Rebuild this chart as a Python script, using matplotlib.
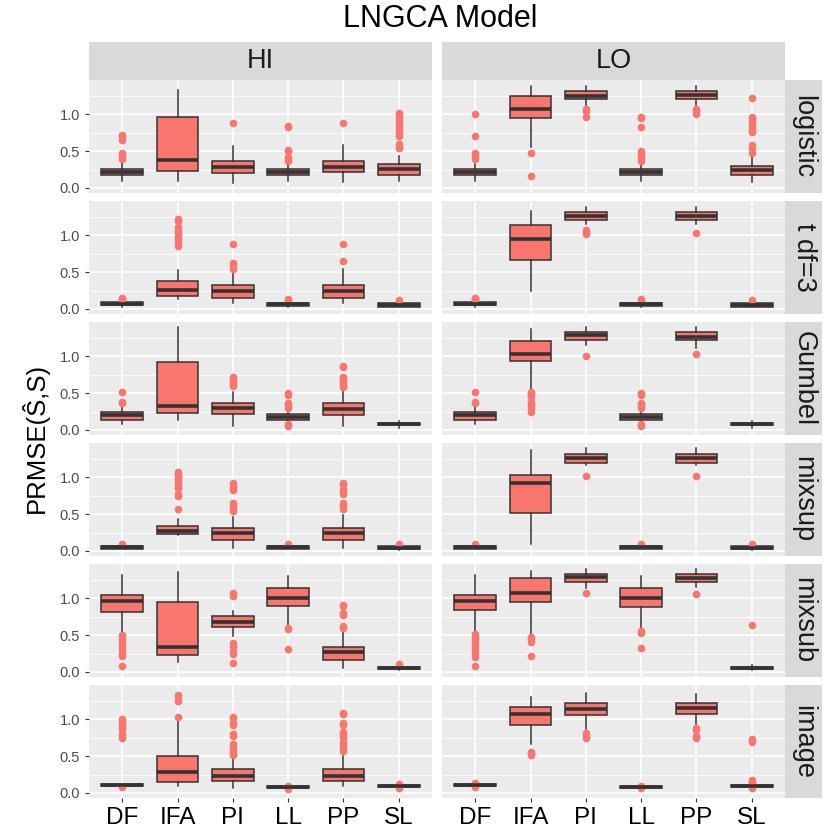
import matplotlib.pyplot as plt

plt.rcParams['font.family'] = ['Liberation Sans', 'DejaVu Sans']

methods = ['DF', 'IFA', 'PI', 'LL', 'PP', 'SL']
sources = ['logistic', 't df=3', 'Gumbel', 'mixsup', 'mixsub', 'image']
levels = ['HI', 'LO']

# box stats per method: (whisker low, q1, median, q3, whisker high)
logistic_hi = [(0.10, 0.17, 0.22, 0.26, 0.36), (0.09, 0.235, 0.38, 0.97, 1.34), (0.07, 0.20, 0.28, 0.37, 0.57),
               (0.10, 0.17, 0.215, 0.26, 0.35), (0.08, 0.21, 0.29, 0.37, 0.585), (0.10, 0.18, 0.255, 0.32, 0.44)]
logistic_hi_out = [[0.72, 0.70, 0.65, 0.48, 0.45, 0.42, 0.40], [], [0.89],
                   [0.84, 0.83, 0.52, 0.50, 0.42, 0.40, 0.37], [0.89],
                   [1.02, 1.0, 0.97, 0.93, 0.90, 0.87, 0.82, 0.78, 0.75, 0.72, 0.70, 0.60, 0.57, 0.55]]
logistic_lo = [(0.10, 0.17, 0.22, 0.26, 0.33), (0.56, 0.95, 1.08, 1.25, 1.39), (1.13, 1.21, 1.25, 1.32, 1.39),
               (0.09, 0.17, 0.215, 0.26, 0.34), (1.13, 1.21, 1.26, 1.32, 1.39), (0.08, 0.17, 0.24, 0.30, 0.43)]
logistic_lo_out = [[1.0, 0.71, 0.48, 0.45, 0.42, 0.40], [0.48, 0.16], [1.08, 1.05, 0.97],
                   [0.97, 0.95, 0.83, 0.50, 0.48, 0.42, 0.40, 0.37], [1.08, 1.05, 1.0],
                   [1.22, 0.97, 0.95, 0.90, 0.85, 0.82, 0.78, 0.76, 0.58, 0.55, 0.48]]

tdf3_hi = [(0.03, 0.05, 0.07, 0.09, 0.13), (0.14, 0.17, 0.26, 0.38, 0.525), (0.08, 0.15, 0.24, 0.32, 0.49),
           (0.03, 0.04, 0.06, 0.08, 0.11), (0.08, 0.15, 0.24, 0.32, 0.54), (0.02, 0.03, 0.055, 0.08, 0.10)]
tdf3_hi_out = [[0.15, 0.14, 0.13], [1.23, 1.20, 1.12, 1.08, 1.05, 1.02, 0.98, 0.95, 0.90, 0.86],
               [0.88, 0.63, 0.60, 0.55], [0.13, 0.12], [0.88, 0.65], [0.12]]
tdf3_lo = [(0.03, 0.05, 0.07, 0.09, 0.13), (0.25, 0.67, 0.95, 1.14, 1.34), (1.155, 1.21, 1.27, 1.32, 1.39),
           (0.03, 0.04, 0.06, 0.08, 0.11), (1.15, 1.21, 1.27, 1.32, 1.39), (0.02, 0.03, 0.055, 0.08, 0.10)]
tdf3_lo_out = [[0.15, 0.14, 0.13], [], [1.08, 1.05, 1.02], [0.13, 0.12], [1.03], [0.12]]

gumbel_hi = [(0.08, 0.14, 0.196, 0.245, 0.35), (0.14, 0.23, 0.32, 0.93, 1.40), (0.05, 0.21, 0.30, 0.36, 0.51),
             (0.08, 0.14, 0.18, 0.22, 0.28), (0.05, 0.20, 0.28, 0.36, 0.53), (0.03, 0.06, 0.08, 0.10, 0.12)]
gumbel_hi_out = [[0.51, 0.38, 0.36], [], [0.72, 0.68, 0.65, 0.62, 0.60],
                 [0.50, 0.48, 0.37, 0.35, 0.32, 0.30, 0.08, 0.05],
                 [0.87, 0.85, 0.72, 0.70, 0.67, 0.65, 0.62, 0.60, 0.58], []]
gumbel_lo = [(0.08, 0.14, 0.196, 0.245, 0.35), (0.52, 0.94, 1.04, 1.21, 1.38), (1.15, 1.23, 1.29, 1.34, 1.40),
             (0.08, 0.14, 0.18, 0.22, 0.28), (1.12, 1.23, 1.27, 1.33, 1.40), (0.03, 0.06, 0.08, 0.10, 0.12)]
gumbel_lo_out = [[0.51, 0.38, 0.36], [0.52, 0.50, 0.47, 0.45, 0.38, 0.35, 0.32, 0.28, 0.25], [1.01],
                 [0.50, 0.48, 0.37, 0.35, 0.32, 0.30, 0.08, 0.05], [1.04], []]

mixsup_hi = [(0.02, 0.03, 0.05, 0.07, 0.08), (0.21, 0.225, 0.27, 0.335, 0.43), (0.04, 0.15, 0.24, 0.315, 0.46),
             (0.02, 0.03, 0.05, 0.07, 0.08), (0.04, 0.15, 0.24, 0.315, 0.49), (0.01, 0.02, 0.04, 0.06, 0.07)]
mixsup_hi_out = [[0.09], [1.07, 1.05, 1.02, 0.98, 0.95, 0.90, 0.87, 0.85, 0.78, 0.75, 0.57],
                 [0.92, 0.90, 0.85, 0.83, 0.65, 0.62, 0.58, 0.55], [0.09],
                 [0.92, 0.90, 0.83, 0.80, 0.78, 0.65, 0.62, 0.60, 0.57], [0.09]]
mixsup_lo = [(0.02, 0.03, 0.05, 0.07, 0.08), (0.10, 0.52, 0.93, 1.03, 1.37), (1.17, 1.20, 1.26, 1.32, 1.40),
             (0.02, 0.03, 0.05, 0.07, 0.08), (1.17, 1.20, 1.26, 1.32, 1.40), (0.01, 0.02, 0.04, 0.06, 0.07)]
mixsup_lo_out = [[0.09], [], [1.02], [0.09], [1.02], [0.09]]

mixsub_hi = [(0.52, 0.81, 0.97, 1.046, 1.32), (0.14, 0.234, 0.34, 0.95, 1.36), (0.49, 0.61, 0.68, 0.757, 0.83),
             (0.63, 0.90, 1.0, 1.14, 1.30), (0.055, 0.165, 0.27, 0.335, 0.54), (0.03, 0.04, 0.055, 0.07, 0.09)]
mixsub_hi_out = [[0.50, 0.45, 0.40, 0.35, 0.30, 0.24, 0.22, 0.08], [],
                 [1.07, 1.03, 0.40, 0.35, 0.28, 0.25, 0.12], [0.60, 0.58, 0.31],
                 [0.91, 0.90, 0.80, 0.78, 0.63, 0.60], [0.11]]
mixsub_lo = [(0.56, 0.84, 0.97, 1.046, 1.32), (0.51, 0.95, 1.07, 1.28, 1.38), (1.14, 1.22, 1.29, 1.33, 1.40),
             (0.59, 0.89, 1.0, 1.14, 1.30), (1.15, 1.22, 1.275, 1.33, 1.40), (0.03, 0.04, 0.055, 0.07, 0.09)]
mixsub_lo_out = [[0.52, 0.48, 0.45, 0.40, 0.35, 0.30, 0.25, 0.20, 0.08], [0.48, 0.45, 0.41, 0.22], [1.07],
                 [0.56, 0.53, 0.32], [1.06], [0.64]]

image_hi = [(0.09, 0.09, 0.105, 0.12, 0.125), (0.09, 0.145, 0.285, 0.50, 0.98), (0.07, 0.155, 0.23, 0.32, 0.47),
            (0.055, 0.06, 0.075, 0.09, 0.095), (0.09, 0.16, 0.23, 0.33, 0.50), (0.07, 0.08, 0.095, 0.11, 0.12)]
image_hi_out = [[1.0, 0.97, 0.94, 0.90, 0.87, 0.80, 0.77, 0.75, 0.08], [1.33, 1.30, 1.25, 1.03],
                [1.04, 1.02, 0.95, 0.93, 0.80, 0.78, 0.67, 0.64, 0.58, 0.55, 0.52], [0.10, 0.05],
                [1.09, 1.07, 0.95, 0.93, 0.83, 0.80, 0.78, 0.75, 0.68, 0.65, 0.60, 0.57], [0.12, 0.07]]
image_lo = [(0.09, 0.09, 0.105, 0.12, 0.125), (0.67, 0.93, 1.08, 1.17, 1.30), (0.87, 1.055, 1.14, 1.22, 1.36),
            (0.055, 0.06, 0.075, 0.09, 0.095), (0.94, 1.08, 1.15, 1.23, 1.35), (0.07, 0.08, 0.095, 0.11, 0.12)]
image_lo_out = [[0.13, 0.08], [0.56, 0.53, 0.51], [0.82, 0.78, 0.75], [0.10, 0.06],
                [0.89, 0.86, 0.77, 0.75], [0.74, 0.72, 0.70, 0.18, 0.15, 0.13, 0.07]]

panels = {
    ('logistic', 'HI'): (logistic_hi, logistic_hi_out), ('logistic', 'LO'): (logistic_lo, logistic_lo_out),
    ('t df=3', 'HI'): (tdf3_hi, tdf3_hi_out), ('t df=3', 'LO'): (tdf3_lo, tdf3_lo_out),
    ('Gumbel', 'HI'): (gumbel_hi, gumbel_hi_out), ('Gumbel', 'LO'): (gumbel_lo, gumbel_lo_out),
    ('mixsup', 'HI'): (mixsup_hi, mixsup_hi_out), ('mixsup', 'LO'): (mixsup_lo, mixsup_lo_out),
    ('mixsub', 'HI'): (mixsub_hi, mixsub_hi_out), ('mixsub', 'LO'): (mixsub_lo, mixsub_lo_out),
    ('image', 'HI'): (image_hi, image_hi_out), ('image', 'LO'): (image_lo, image_lo_out),
}

W = 830.0
fig = plt.figure(figsize=(8.3, 8.3), dpi=100)

def rect(x, y, w, h):  # pixel box (top-left origin) -> figure fraction
    return [x / W, 1 - (y + h) / W, w / W, h / W]

col_x = [89, 442]
col_w = 343
row_top = 80
row_h = 113
row_step = 121
fill = '#F8766D'
dark = '#333333'

fig.text(440 / W, 1 - 19 / W, 'LNGCA Model', ha='center', va='center', fontsize=22)
fig.text(35 / W, 1 - 438 / W, 'PRMSE(Ŝ,S)', ha='center', va='center', rotation=90, fontsize=18.5)

# column strips
for j, lev in enumerate(levels):
    sax = fig.add_axes(rect(col_x[j], 42, col_w, 38))
    sax.set_facecolor('#D9D9D9')
    sax.set_xticks([]); sax.set_yticks([])
    for s in sax.spines.values():
        s.set_visible(False)
    sax.text(0.5, 0.5, lev, ha='center', va='center', fontsize=19.5, color='#1A1A1A', transform=sax.transAxes)

for i, src in enumerate(sources):
    top = row_top + i * row_step
    # row strip
    sax = fig.add_axes(rect(785, top, 37, row_h))
    sax.set_facecolor('#D9D9D9')
    sax.set_xticks([]); sax.set_yticks([])
    for s in sax.spines.values():
        s.set_visible(False)
    sax.text(0.5, 0.5, src, ha='center', va='center', rotation=-90, fontsize=19.5,
             color='#1A1A1A', transform=sax.transAxes)

    for j, lev in enumerate(levels):
        ax = fig.add_axes(rect(col_x[j], top, col_w, row_h))
        ax.set_facecolor('#EBEBEB')
        for s in ax.spines.values():
            s.set_visible(False)
        stats, outs = panels[(src, lev)]
        bxp_stats = []
        for k, m in enumerate(methods):
            lo, q1, med, q3, hi = stats[k]
            bxp_stats.append({'label': m, 'whislo': lo, 'q1': q1, 'med': med,
                              'q3': q3, 'whishi': hi, 'fliers': outs[k]})
        ax.bxp(bxp_stats, positions=range(1, 7), widths=0.75, patch_artist=True,
               showcaps=False, zorder=3,
               boxprops=dict(facecolor=fill, edgecolor=dark, linewidth=1.1),
               whiskerprops=dict(color=dark, linewidth=1.1),
               medianprops=dict(color=dark, linewidth=2.6),
               flierprops=dict(marker='o', markerfacecolor=fill, markeredgecolor='none',
                               markersize=5.5))
        ax.set_xlim(0.4, 6.6)
        ax.set_ylim(-0.07, 1.47)
        ax.set_yticks([0, 0.5, 1.0])
        ax.set_yticks([0.25, 0.75, 1.25], minor=True)
        ax.grid(True, which='major', color='white', linewidth=1.1, zorder=0)
        ax.grid(True, which='minor', axis='y', color='white', linewidth=0.55, zorder=0)
        ax.set_axisbelow(True)
        ax.tick_params(which='minor', length=0)
        ax.tick_params(which='major', length=3, width=0.8, color=dark)
        if j == 0:
            ax.set_yticklabels(['0.0', '0.5', '1.0'], fontsize=10.5, color='#4D4D4D')
        else:
            ax.tick_params(axis='y', left=False, labelleft=False)
        if i == len(sources) - 1:
            ax.set_xticklabels(methods, fontsize=17.5, color='black')
        else:
            ax.tick_params(axis='x', bottom=False, labelbottom=False)

fig.savefig('out.png', dpi=100)
